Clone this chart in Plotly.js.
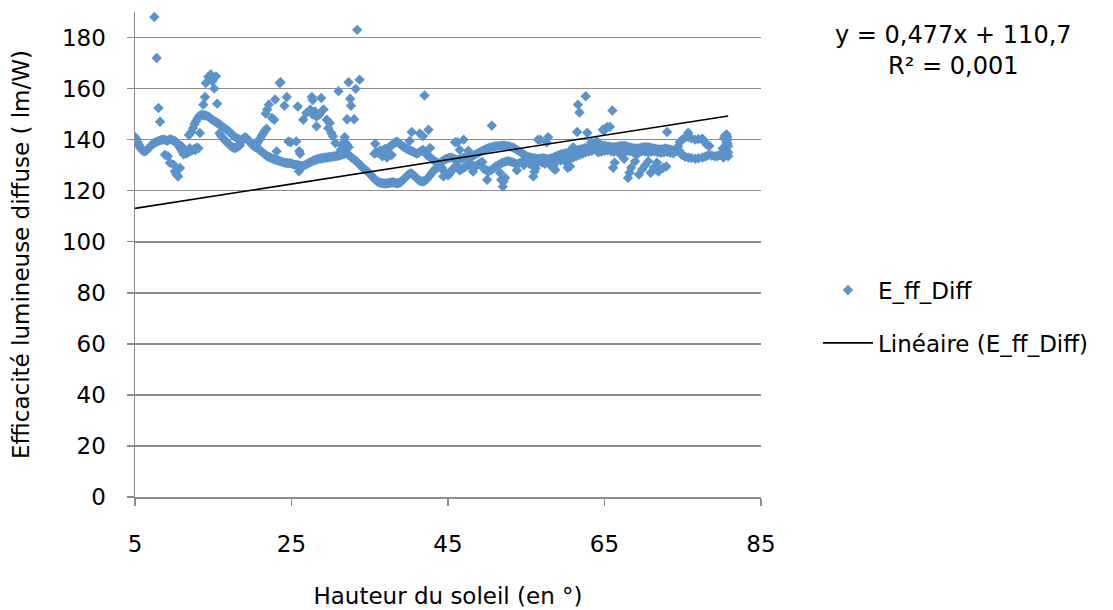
<!DOCTYPE html>
<html>
<head>
<meta charset="utf-8">
<script src="https://cdn.plot.ly/plotly-3.0.1.min.js"></script>
<style>html,body{margin:0;padding:0;background:#fff;}</style>
</head>
<body>
<div id="chart" style="width:1113px;height:610px;"></div>
<script>
// Solar elevation (deg) and diffuse luminous efficacy (lm/W), by band
const elevA = [5.0,5.1,5.2,5.35,5.5,5.65,5.8,5.95,6.1,6.3,6.5,6.7,6.9,7.1,7.3,7.5,7.7,7.9,8.1,8.3,8.5,8.7,8.9,9.1,9.3,9.5,9.7,9.9,10.1,10.3,10.5,10.7,10.9,11.1,11.3,11.5,11.7,11.9,12.1,12.3,12.5,12.7,12.9];
const effA  = [141,140.5,140,139,138,137,136.3,135.8,135.5,135.4,135.8,136.5,137.2,137.8,138.4,138.8,139,139.3,139.6,139.8,140,140,139.8,139.5,139.8,140.2,140,139.6,139.5,139,138,137,136,135.2,134.8,134.5,134.8,135.2,135.5,135.8,136.2,136.5,136.8];

const elevB = [8.83,9.2,9.47,9.9,10.1,10.3,10.75,10.5,10.96,11.2,11.6,12.0,12.7,13.1,8.0,8.2,7.47,7.77];
const effB  = [134.1,133.5,130.9,130.3,127.6,126.3,128.9,125.6,137.4,134.3,135.3,136.6,135.9,136.6,152.4,147,188,172];

const elevC = [11.9,12.2,12.4,12.6,12.8,13.0,13.2,13.3,13.4,13.6,13.8,14.0,14.2,14.4,14.6,14.8,15.0,15.2,15.4,15.6,15.8,16.0,16.2,16.4,16.6,16.8,17.0,17.2,17.4,17.6,17.8,18.0,18.2,18.4];
const effC  = [141.8,143,144.5,146,147.2,148.3,149.3,142.6,149.6,149.8,149.5,149.5,149.3,149,148.5,148,147.5,147.2,146.8,146.3,146,145.5,145,144.6,144.2,143.7,143.2,142.7,142,141.5,141,140.6,140.2,140];

const elevD = [15.8,16.0,16.2,16.4,16.6,16.8,17.0,17.2,17.4,17.6,17.8,18.0,18.2,18.4,18.5,18.7,18.9,19.1,19.3,19.5,19.7,19.9,20.1,20.3,20.5];
const effD  = [142.5,141.5,140.8,140,139.4,138.8,138.2,137.6,137.2,136.8,136.7,137,137.3,137.8,139,140,140.6,141,140.5,139.8,139,138.2,137.6,137.2,137];

const elevE = [20.6,20.8,21.0,21.2,21.4,21.6,21.8,20.7,20.9,21.1,21.3,21.5,21.7,21.9,22.1,22.3,22.5,22.7,22.9,23.1,23.3,23.5,23.7,23.9,24.1,24.3,24.5,24.7,24.9];
const effE  = [138.5,139.5,140.5,141.5,142.5,143.5,144.3,136.5,136,135.5,135,134.5,134,133.5,133.2,133,132.6,132.4,132.2,132,131.8,131.6,131.4,131.2,131,130.9,130.8,130.8,130.7];

const elevF = [13.73,13.95,14.05,14.37,14.67,14.88,15.35,15.13,15.5,21.9,22.1,21.7,22.5,22.8,22.9,23.5,23.6,24.4,24.1,23.1,24.6,24.9,25.6,26.0,26.1,25.95,25.8,27.6,27.7,28.8,26.5,26.9,27.4,27.7,28.0,28.2,28.6,29.1,28.2,29.5,29.7,29.9,30.1,30.3,31.0,32.3,32.5,33.2,33.7,33.4,30.6,31.6,32.6,32.1,33.0,31.8];
const effF  = [153.7,156.7,162.2,164.6,165.5,162.9,164.8,160,154.1,151.8,153.7,150.2,148.5,147.8,155.7,162.2,162.5,156.7,153.3,135.4,139.3,139,139.3,135.5,134.5,127.6,153,156.7,155.5,156.3,147.8,150.4,151.8,149.8,151,149,149.8,151.8,145.2,147.8,144.5,146.5,142.6,141.3,159,162.5,156,159.9,163.5,183,138.7,138.7,153.3,148,148,141];

const elevG = [25.1,25.3,25.5,25.7,25.9,26.1,26.3,26.5,26.7,26.9,27.1,27.3,27.5,27.7,27.9,28.1,28.3,28.5,28.7,28.9,29.1,29.3,29.5,29.7,29.9,30.1,30.3,30.5,30.7,30.9,31.1,31.3,31.5,31.7,31.9,32.1,32.3,32.5,32.7,32.9,33.1,33.3,33.5,33.7,33.9,34.1,34.3,34.5,34.7,34.9,35.1,35.3,35.5,35.7,35.9,36.1,36.3,36.5,36.7,36.9,37.1,37.3,37.5,37.7,37.9,38.1,38.3,38.5,38.7,38.9,39.1,39.3,39.5,39.7,39.9,40.1,40.3,40.5,40.7,40.9,41.1,41.3,41.5,41.7,41.9,42.1,42.3,42.5,42.7,42.9,43.1,43.3,43.5,43.7,43.9];
const effG  = [130.5,130.3,130.2,130.1,130,129.8,129.7,129.8,130,130.3,130.7,131,131.3,131.6,131.9,132.1,132.3,132.5,132.6,132.7,132.8,132.9,133,133.1,133.2,133.3,133.4,133.5,133.6,133.7,133.8,134,134.2,134.4,134.6,134.5,134,133.5,133,132.5,132,131.5,131,130.3,129.6,129,128.5,128,127.5,127,126.3,125.6,125,124.3,123.8,123.4,123.1,123,122.9,122.8,122.8,122.9,123,123.2,123.3,123.2,123,122.9,123,123.3,123.8,124.4,125,125.6,126.2,126.7,126.8,126.4,125.8,125.2,124.6,124.1,123.8,123.6,123.7,124,124.6,125.3,126,126.8,127.6,128.3,128.8,129.2,129.4];

const elevH = [31.3,31.5,31.7,31.9,32.1,32.3,35.6,35.8,36.0,36.2,36.4,36.6,36.8,37.0,37.2,37.4,37.6,37.8,38.0,38.2,38.4,38.6,38.8,39.0,39.2,39.4,39.6,39.8,40.0,40.2,40.4,40.6,40.8,41.0,41.2,41.4,41.6,41.8,42.0,42.2,42.4,42.6,42.8,43.0,43.2,43.4,43.6,43.8,44.0];
const effH  = [136,137.5,138.5,138.8,138,137,134.5,135,134.8,135.3,135.8,135.5,136,136.4,136.2,136.8,137.3,137.8,138.3,138.8,139.2,139,138.5,138,137.5,137,136.7,136.3,136,135.7,135.5,135.2,134.8,134.5,134.8,135.2,135.6,136,135.5,134.8,134,133.4,132.8,132.3,131.8,131.4,131,130.7,130.5];

const elevI = [35.7,40.36,41.4,41.8,42.5,40.1,42.7,42.3,42.0,45.9,47.0,46.5,47.6,46.2,44.4,46.5,48.2,36.6,37.2,37.8];
const effI  = [138.4,143,142.4,141.4,143.9,139.5,136.7,134,157.3,139,140,136,135.7,139,125.6,128,127.5,133.5,133,134];

const elevJ = [44.2,44.4,44.6,44.8,45.0,45.2,45.4,45.6,45.8,46.0,46.2,46.4,46.6,46.8,47.0,47.2,47.4,47.6,47.8,48.0,48.2,48.4,48.6,48.8,49.0,49.2,49.4];
const effJ  = [129,128,127.2,126.5,126,126.5,127.5,128.5,129,129.3,129,128.6,128.3,128.6,129,129.4,129.8,130,130.2,130,129.7,129.5,129.8,130.2,130.6,131,131.2];

const elevK = [44.2,44.5,44.8,45.1,45.4,45.7,46.0,46.3,46.6,46.9,47.2,47.5,47.8,48.1,48.4,48.7,49.0,49.3,49.6,49.9,50.2,50.5,50.8,51.1,51.4,51.7,52.0,52.3,52.6,52.9,53.2,53.5,53.8,54.1,54.4,54.7,55.0,55.3,55.6,55.9,56.2,56.5,56.8,57.1,57.4,57.7,58.0,58.3,58.6,58.9,59.2,59.5,59.8,60.1,60.4,60.7,61.0,61.3,61.6,61.9,62.2,62.5,62.8,63.1,63.4,63.7,64.0];
const effK  = [131.5,132,132.5,132.8,133,132.6,132.2,132,132.4,132.8,133.2,133.5,133.2,133.5,134,134.5,135,135.5,136,136.4,136.7,137,137.2,137.4,137.5,137.6,137.7,137.6,137.5,137.3,137,136.6,136,135.4,134.8,134.2,133.6,133.2,133,132.8,132.6,132.5,132.6,132.8,132.6,132.4,132.5,132.8,133.2,133.6,134,134.3,134.5,134.7,135,135.3,135.6,135.8,136,136.2,136.4,136.6,136.8,137,137.2,137.3,137.4];

const elevL = [49.6,49.9,50.2,50.5,50.8,51.1,51.4,51.7,52.0,52.3,52.6,52.9,53.2,53.5,53.8,54.1,54.4,54.7,55.0,55.4,55.8,56.2,56.6,57.0,57.4,57.8,58.2,58.6,59.0,59.4,59.8,60.2,60.6,61.0,61.4,61.8,62.2,62.6,63.0,63.4];
const effL  = [128.5,128,127.6,128,128.8,129.5,130,130.5,131,131.3,131.6,131.5,131.2,130.8,130.5,130.8,131.2,131.5,131.8,130.5,130,130.5,131.5,131,130.5,131,130.8,131.5,132,131.8,132.5,133,132.5,133,133.5,134,134.5,135,135.3,135.6];

const elevM = [50.6,50.0,51.65,51.8,52.1,52.0,52.3,55.9,56.2,56.05,58.4,60.3,56.8,57.8,57.6,61.5,62.8,61.0,61.6,61.8,62.6,66.0,64.8,65.7,65.2,56.5,58.7,60.6,58.5,60.2,53.8,54.7,63.3,64.0];
const effM  = [145.5,124.3,127,124.3,123.6,121.6,125,125.6,128.8,127.5,129,129,140,141,139,143,142.7,137,153.7,150.6,157,151.4,144,145,144.5,140,128.2,129.5,130,130.7,128,130,139,139.5];

const elevN = [64.3,64.6,64.9,65.2,65.5,65.8,66.1,66.4,66.7,67.0,67.3,67.6,67.9,68.2,68.5,68.8,69.1,69.4,69.7,70.0,70.3,70.6,70.9,71.2,71.5,71.8,72.1,72.4,72.7,73.0,73.3,73.6,73.9,74.2];
const effN  = [137.5,137.6,137.7,137.5,137.3,137.2,137,137.1,137.3,137.5,137.6,137.5,137.3,137,136.8,136.6,136.5,136.6,136.8,137,137.1,137,136.8,136.6,136.4,136.3,136.2,136.3,136.5,136.4,136.2,136,135.8,135.6];

const elevO = [64.2,64.6,65.0,65.4,65.8,66.2,66.6,67.0,67.4,67.8,68.2,68.6,69.0,69.4,69.8,70.2,70.6,71.0,71.4,71.8,72.2,72.6,73.0,73.4,73.8];
const effO  = [135,135.3,135.6,135.8,135.5,135.2,135.6,136,135.8,135.5,135.4,135.2,135,135.2,135.5,135.3,135,135.2,135.4,135,134.8,135,135.2,134.8,134.6];

const elevP = [74.4,74.6,74.9,75.3,75.7,76.1,76.6,77.0,77.5,77.8,78.1,78.4,74.6,74.9,75.3,75.7,76.1,76.6,77.0,77.5,77.9,78.3,78.7,79.1,79.4,79.6,79.9,80.1,80.2,80.3,80.4,80.5,80.5,80.6,80.6,80.7,80.7,80.6,80.4,80.8,80.8,80.3,80.1,80.7,80.8];
const effP  = [137.3,139,140,140.8,141,140.5,140,140.2,140.4,139,138,137.5,135.5,134,133.3,133,132.8,132.5,132.7,133,133.4,134,133.8,133.5,133.6,133.8,134,134.5,133,134,135,136,137,138,139,140,141,142,141.5,135,133.5,140.5,136.5,138.5,137.5];

const elevQ = [66.1,66.3,67.1,67.5,68.0,68.2,68.4,68.9,69.1,69.4,69.8,70.2,70.6,70.9,71.3,71.7,72.1,72.5,72.9,71.9,73.0,75.7,64.9,65.4];
const effQ  = [129,131,134,132.5,125,127,129,131.5,134,126.3,128.3,130,131.5,127,129,131,128.3,129,129.5,127.5,143,142.7,143.5,145];

// Linear trend (from the chart's own equation)
const slope = 0.477, intercept = 110.7;
const seriesName = 'E_ff_Diff';
const trendName = 'Linéaire (E_ff_Diff)';
const xTicks = [5, 25, 45, 65, 85];
const yTicks = [0, 20, 40, 60, 80, 100, 120, 140, 160, 180];

const elev = [].concat(elevA,elevB,elevC,elevD,elevE,elevF,elevG,elevH,elevI,elevJ,elevK,elevL,elevM,elevN,elevO,elevP,elevQ);
const eff  = [].concat(effA,effB,effC,effD,effE,effF,effG,effH,effI,effJ,effK,effL,effM,effN,effO,effP,effQ);

const xMin = Math.min(...elev), xMax = Math.max(...elev);
const trendX = [xMin, xMax];
const trendY = trendX.map(v => slope * v + intercept);

const FONT = 'DejaVu Sans, sans-serif';
const GRID = '#8c8c8c';

const traces = [
  {
    x: elev, y: eff, type: 'scatter', mode: 'markers', name: seriesName,
    legendgroup: 'a',
    marker: {symbol: 'diamond', size: 8, color: '#5b92c9'},
    hoverinfo: 'x+y'
  },
  {
    x: trendX, y: trendY, type: 'scatter', mode: 'lines', name: trendName,
    legendgroup: 'b',
    line: {color: '#000000', width: 1.6}
  }
];

const layout = {
  width: 1113, height: 610,
  margin: {l: 135, r: 352, t: 12, b: 113, pad: 0},
  paper_bgcolor: '#ffffff', plot_bgcolor: '#ffffff',
  font: {family: FONT, color: '#000000', size: 22},
  showlegend: true,
  xaxis: {
    range: [5, 85], tickvals: xTicks, ticktext: xTicks.map(String),
    showgrid: false, zeroline: false,
    showline: true, linecolor: GRID, linewidth: 1.5,
    ticks: 'outside', ticklen: 7, tickwidth: 1.5, tickcolor: GRID,
    tickfont: {family: FONT, size: 23, color: '#000'},
    ticklabelstandoff: 19,
    title: {text: 'Hauteur du soleil (en °)', font: {family: FONT, size: 23, color: '#000'}, standoff: 32},
    automargin: false, fixedrange: true
  },
  yaxis: {
    range: [0, 190], tickvals: yTicks, ticktext: yTicks.map(String),
    showgrid: true, gridcolor: GRID, gridwidth: 1.6,
    zeroline: false,
    showline: true, linecolor: GRID, linewidth: 1.5,
    ticks: 'outside', ticklen: 7, tickwidth: 1.5, tickcolor: GRID,
    tickfont: {family: FONT, size: 23, color: '#000'},
    ticklabelstandoff: 16,
    title: {text: 'Efficacité lumineuse diffuse ( lm/W)', font: {family: FONT, size: 23, color: '#000'}, standoff: 26},
    automargin: false, fixedrange: true
  },
  legend: {
    x: 1.091, xanchor: 'left', y: 0.471, yanchor: 'top',
    font: {family: FONT, size: 23, color: '#000'},
    itemwidth: 50, traceorder: 'grouped', tracegroupgap: 20,
    bgcolor: 'rgba(0,0,0,0)', borderwidth: 0
  },
  annotations: [
    {
      xref: 'paper', yref: 'paper', x: 1.308, y: 0.92,
      xanchor: 'center', yanchor: 'middle', align: 'center', showarrow: false,
      text: 'y = 0,477x + 110,7<br>R² = 0,001',
      font: {family: FONT, size: 24, color: '#000'}
    }
  ]
};

Plotly.newPlot('chart', traces, layout, {displayModeBar: false, staticPlot: true});
</script>
</body>
</html>
